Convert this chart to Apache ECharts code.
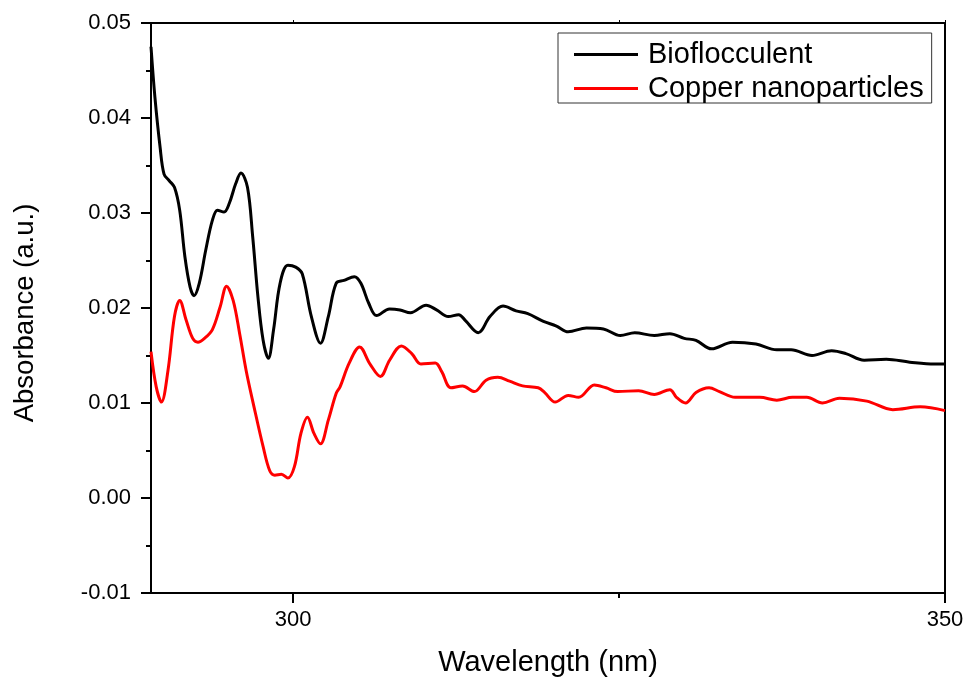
<!DOCTYPE html>
<html>
<head>
<meta charset="utf-8">
<script src="https://cdn.jsdelivr.net/npm/echarts@6/dist/echarts.min.js"></script>
<style>
html,body{margin:0;padding:0;background:#fff;}
#chart{width:966px;height:679px;}
</style>
</head>
<body>
<div id="chart"></div>
<script>
var seriesNames = ['Bioflocculent', 'Copper nanoparticles'];
var xMajorTicks = [300, 350];
var xMinorTicks = [325];

var blackWl = [289.1, 289.4, 289.8, 290.1, 290.5, 290.9, 291.3, 291.7, 292.1, 292.4, 292.8, 293.3, 293.8, 294.2, 294.7, 295.1, 295.6, 296.0, 296.5, 296.9, 297.3, 297.7, 298.1, 298.5, 299.0, 299.6, 300.2, 300.7, 301.4, 302.1, 302.7, 303.3, 303.9, 304.7, 305.2, 305.8, 306.4, 307.4, 308.2, 309.0, 310.2, 311.0, 311.9, 312.7, 313.2, 314.2, 315.1, 316.1, 317.1, 318.0, 319.2, 320.2, 321.1, 322.5, 323.8, 325.1, 326.2, 327.7, 328.9, 330.0, 330.9, 332.1, 333.7, 335.5, 337.1, 338.2, 339.8, 341.3, 342.4, 343.8, 345.5, 347.3, 349.2, 350.0];
var blackAbs = [0.0475, 0.0422, 0.0369, 0.0341, 0.0334, 0.0327, 0.0303, 0.0254, 0.0222, 0.0213, 0.0226, 0.0261, 0.0292, 0.0303, 0.0301, 0.0310, 0.0331, 0.0342, 0.0327, 0.0275, 0.0212, 0.0166, 0.0147, 0.0177, 0.0226, 0.0245, 0.0243, 0.0236, 0.0191, 0.0163, 0.0191, 0.0226, 0.0229, 0.0233, 0.0226, 0.0205, 0.0192, 0.0199, 0.0198, 0.0195, 0.0203, 0.0198, 0.0191, 0.0193, 0.0187, 0.0174, 0.0191, 0.0202, 0.0197, 0.0194, 0.0186, 0.0181, 0.0175, 0.0179, 0.0178, 0.0171, 0.0174, 0.0171, 0.0173, 0.0168, 0.0166, 0.0157, 0.0164, 0.0162, 0.0156, 0.0156, 0.0150, 0.0155, 0.0152, 0.0145, 0.0146, 0.0143, 0.0141, 0.0141];

var redWl = [289.1, 289.5, 289.9, 290.4, 290.9, 291.3, 291.8, 292.3, 292.7, 293.2, 293.8, 294.4, 294.9, 295.4, 295.9, 296.4, 297.0, 297.7, 298.2, 298.6, 299.1, 299.6, 300.1, 300.6, 301.1, 301.6, 302.1, 302.7, 303.3, 303.6, 304.3, 305.1, 305.9, 306.7, 307.4, 308.3, 309.1, 309.8, 310.9, 311.4, 312.1, 313.0, 313.9, 314.8, 315.7, 316.6, 317.6, 318.8, 319.3, 320.1, 321.1, 321.9, 323.1, 324.0, 324.9, 326.5, 327.7, 328.9, 329.4, 330.1, 330.9, 331.9, 332.7, 333.9, 335.8, 337.1, 338.3, 339.4, 340.6, 341.9, 344.0, 346.0, 348.1, 350.0];
var redAbs = [0.0154, 0.0117, 0.0101, 0.0134, 0.0191, 0.0208, 0.0187, 0.0168, 0.0164, 0.0168, 0.0177, 0.0201, 0.0223, 0.0208, 0.0173, 0.0134, 0.0096, 0.0054, 0.0029, 0.0024, 0.0025, 0.0021, 0.0033, 0.0068, 0.0085, 0.0068, 0.0057, 0.0082, 0.0110, 0.0117, 0.0142, 0.0159, 0.0141, 0.0128, 0.0145, 0.0160, 0.0152, 0.0141, 0.0142, 0.0133, 0.0116, 0.0118, 0.0112, 0.0124, 0.0127, 0.0123, 0.0118, 0.0116, 0.0111, 0.0101, 0.0108, 0.0106, 0.0119, 0.0116, 0.0112, 0.0113, 0.0109, 0.0114, 0.0106, 0.0100, 0.0111, 0.0116, 0.0112, 0.0106, 0.0106, 0.0103, 0.0106, 0.0106, 0.0100, 0.0105, 0.0102, 0.0093, 0.0096, 0.0092];

function pairs(xs, ys) { return xs.map(function (x, i) { return [x, ys[i]]; }); }

var FONT = '"Liberation Sans", Arial, sans-serif';
var chart = echarts.init(document.getElementById('chart'), null, {renderer: 'canvas'});
chart.setOption({
  animation: false,
  backgroundColor: '#ffffff',
  textStyle: {fontFamily: FONT, color: '#000'},
  grid: {left: 151, right: 21, top: 23, bottom: 86, outerBoundsMode: 'none', containLabel: false,
    show: true, borderColor: '#000', borderWidth: 2, backgroundColor: 'transparent'},
  legend: {
    orient: 'vertical', left: 558, top: 33,
    data: seriesNames,
    icon: 'rect', itemWidth: 64, itemHeight: 3, itemGap: 5, itemTextGap: 14,
    padding: [7, 8, 0, 16],
    borderColor: '#333', borderWidth: 1,
    textStyle: {fontSize: 29, fontFamily: FONT, color: '#000', padding: [0, 0, 0, 5]}
  },
  xAxis: [{
    type: 'value', min: 289.1, max: 350, position: 'bottom',
    name: 'Wavelength (nm)', nameLocation: 'middle', nameGap: 55,
    nameTextStyle: {fontSize: 29, fontFamily: FONT, color: '#000'},
    axisLine: {show: true, onZero: false, lineStyle: {color: '#000', width: 2}},
    axisTick: {show: true, length: 10, customValues: xMajorTicks, lineStyle: {color: '#000', width: 2}},
    axisLabel: {show: true, customValues: xMajorTicks, fontSize: 22, margin: 16, color: '#000', fontFamily: FONT},
    splitLine: {show: false}
  }, {
    type: 'value', min: 289.1, max: 350, position: 'bottom', gridIndex: 0,
    axisLine: {show: false, onZero: false},
    axisTick: {show: true, length: 5, customValues: xMinorTicks, lineStyle: {color: '#000', width: 2}},
    axisLabel: {show: false},
    splitLine: {show: false}
  }, {
    type: 'value', min: 289.1, max: 350, position: 'top', gridIndex: 0,
    axisLine: {show: true, onZero: false, lineStyle: {color: '#000', width: 2}},
    axisTick: {show: true, length: 3, customValues: [300, 325, 350], lineStyle: {color: '#000', width: 1}},
    axisLabel: {show: false},
    splitLine: {show: false}
  }],
  yAxis: [{
    type: 'value', min: -0.01, max: 0.05, interval: 0.01,
    name: 'Absorbance (a.u.)', nameLocation: 'middle', nameGap: 112,
    nameTextStyle: {fontSize: 27.5, fontFamily: FONT, color: '#000', padding: [0, 10, 0, 0]},
    axisLine: {show: true, onZero: false, lineStyle: {color: '#000', width: 2}},
    axisTick: {show: true, length: 10, lineStyle: {color: '#000', width: 2}},
    minorTick: {show: true, splitNumber: 2, length: 5, lineStyle: {color: '#000', width: 2}},
    axisLabel: {fontSize: 22, margin: 20, color: '#000', fontFamily: FONT,
      formatter: function (v) { return v.toFixed(2); }},
    splitLine: {show: false}
  }, {
    type: 'value', min: -0.01, max: 0.05, position: 'right',
    axisLine: {show: true, onZero: false, lineStyle: {color: '#000', width: 2}},
    axisTick: {show: false}, axisLabel: {show: false}, splitLine: {show: false}
  }],
  series: [{
    name: seriesNames[0], type: 'line', xAxisIndex: 0, yAxisIndex: 0,
    data: pairs(blackWl, blackAbs), smooth: 0.35, showSymbol: false, symbol: 'none',
    itemStyle: {color: '#000'}, lineStyle: {color: '#000', width: 3}
  }, {
    name: seriesNames[1], type: 'line', xAxisIndex: 0, yAxisIndex: 0,
    data: pairs(redWl, redAbs), smooth: 0.35, showSymbol: false, symbol: 'none',
    itemStyle: {color: '#ff0000'}, lineStyle: {color: '#ff0000', width: 3}
  }]
});
</script>
</body>
</html>
